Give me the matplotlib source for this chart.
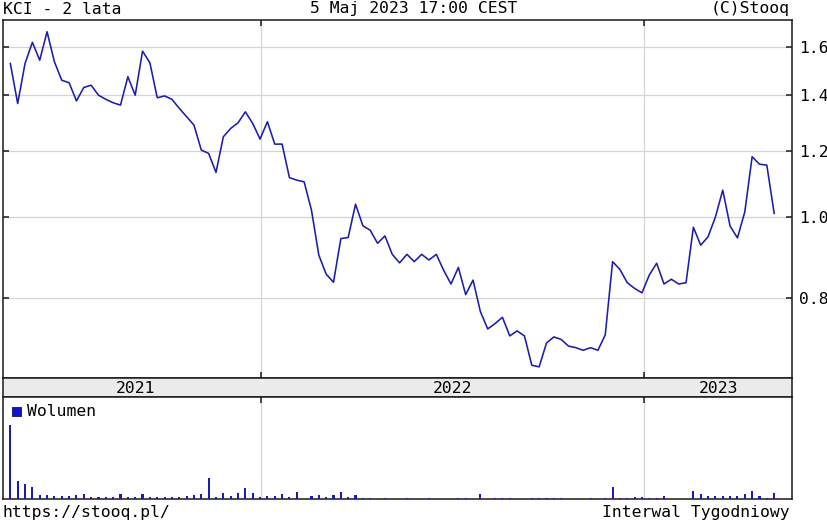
import numpy as np
import pandas as pd
import matplotlib
matplotlib.use('Agg')
import matplotlib.pyplot as plt
from matplotlib.ticker import FixedLocator, FormatStrFormatter, NullLocator
from matplotlib.patches import Rectangle

plt.rcParams['font.family'] = ['DejaVu Sans Mono']

# tygodniowe notowania KCI, 2 lata
daty = pd.date_range(end='2023-05-05', periods=105, freq='7D')
kurs = [1.528, 1.368, 1.528, 1.620, 1.542, 1.668, 1.535, 1.459, 1.449, 1.378,
        1.430, 1.439, 1.400, 1.384, 1.371, 1.362, 1.473, 1.400, 1.581, 1.531,
        1.390, 1.397, 1.384, 1.350, 1.319, 1.289, 1.203, 1.192, 1.131, 1.248,
        1.277, 1.297, 1.337, 1.295, 1.240, 1.301, 1.223, 1.223, 1.115, 1.107,
        1.102, 1.019, 0.900, 0.854, 0.835, 0.942, 0.945, 1.036, 0.976, 0.964,
        0.930, 0.949, 0.902, 0.881, 0.902, 0.884, 0.902, 0.888, 0.902, 0.863,
        0.831, 0.870, 0.807, 0.840, 0.770, 0.734, 0.745, 0.758, 0.720, 0.730,
        0.720, 0.664, 0.661, 0.706, 0.718, 0.713, 0.700, 0.697, 0.692, 0.697,
        0.692, 0.722, 0.884, 0.865, 0.834, 0.821, 0.811, 0.852, 0.880, 0.831,
        0.842, 0.831, 0.834, 0.972, 0.925, 0.947, 1.000, 1.077, 0.975, 0.944,
        1.014, 1.181, 1.157, 1.154, 1.010]
wolumen = [74, 18, 15, 12, 4, 4, 3, 3, 3, 4,
           5, 2, 2, 2, 2, 5, 2.5, 2.5, 5, 2.5,
           2.5, 2, 2.5, 2, 3, 4, 5, 21, 2.5, 6.5,
           3.5, 6.5, 11, 6.5, 2.5, 3, 3, 4.7, 2.5, 6.7,
           0, 3, 4, 2, 4, 6.7, 2, 4, 1.5, 1.5,
           0, 1.5, 0, 0, 1.5, 0, 0, 1.5, 0, 0,
           0, 1.5, 1.5, 0, 5, 0, 1.5, 1.5, 1.5, 0,
           0, 1.5, 1.5, 1.5, 1.5, 1.5, 0, 0, 0, 1.5,
           0, 1.5, 12, 1.5, 1.5, 2.5, 2.5, 1.5, 1.5, 3.5,
           0, 0, 0, 7.7, 5, 3.5, 3.5, 3.5, 3.5, 3.5,
           5, 8, 3.5, 1.5, 6]
wolumen = np.array(wolumen) * 1000

y_ticks = [0.8, 1.0, 1.2, 1.4, 1.6]
granice_lat = pd.to_datetime(['2022-01-01', '2023-01-01'])
etykiety_lat = ['2021', '2022', '2023']
x_min = pd.Timestamp('2021-04-30')
x_max = pd.Timestamp('2023-05-22')

kolor_linii = '#1c1cb0'
kolor_siatki = '#d4d4d4'
kolor_ramki = '#1a1a1a'
rozmiar = 11.8

W, H = 828, 525
fig = plt.figure(figsize=(W / 100, H / 100), dpi=100)
fig.patch.set_facecolor('white')

L, R = 3, 792


def box(top, bottom):
    return [L / W, 1 - bottom / H, (R - L) / W, (bottom - top) / H]


ax = fig.add_axes(box(20, 378))
ax_rok = fig.add_axes(box(378, 397))
ax_vol = fig.add_axes(box(397, 499))

# wykres kursu
ax.plot(daty, kurs, color=kolor_linii, lw=1.15, zorder=3)
ax.set_yscale('log')
ax.set_ylim(0.641, 1.723)
ax.yaxis.set_major_locator(FixedLocator(y_ticks))
ax.yaxis.set_minor_locator(NullLocator())
ax.yaxis.set_major_formatter(FormatStrFormatter('%.1f'))
ax.set_xlim(x_min, x_max)
ax.set_xticks(granice_lat)
ax.tick_params(axis='both', which='both', direction='in', length=4, width=1.1,
               color=kolor_ramki, left=True, right=True, top=True, bottom=True,
               labelleft=False, labelright=True, labelbottom=False,
               labelsize=rozmiar, pad=5)
ax.grid(True, color=kolor_siatki, lw=0.9)
ax.set_axisbelow(True)

# pasek z latami
ax_rok.set_facecolor('#ebebeb')
ax_rok.set_xlim(x_min, x_max)
ax_rok.set_ylim(0, 1)
ax_rok.set_xticks([])
ax_rok.set_yticks([])
srodki = [daty[0] + (granice_lat[0] - daty[0]) / 2,
          granice_lat[0] + (granice_lat[1] - granice_lat[0]) / 2,
          granice_lat[1] + (x_max - granice_lat[1]) / 2]
for s, e in zip(srodki, etykiety_lat):
    ax_rok.text(s, 0.45, e, ha='center', va='center', fontsize=rozmiar)

# wolumen
ax_vol.bar(daty, wolumen, width=2, color=kolor_linii, zorder=3)
ax_vol.set_xlim(x_min, x_max)
ax_vol.set_ylim(0, max(wolumen) * 1.38)
ax_vol.set_xticks(granice_lat)
ax_vol.set_yticks([])
ax_vol.tick_params(axis='x', direction='in', length=4, width=1.1, color=kolor_ramki,
                   top=True, bottom=False, labelbottom=False)
ax_vol.grid(True, axis='x', color=kolor_siatki, lw=0.9)
ax_vol.set_axisbelow(True)
ax_vol.add_patch(Rectangle((9 / (R - L), 1 - 19 / 102), 9 / (R - L), 9 / 102,
                           transform=ax_vol.transAxes, facecolor='#1010d0',
                           edgecolor='#101060', lw=0.6, zorder=4))
ax_vol.text(24 / (R - L), 1 - 14 / 102, 'Wolumen', transform=ax_vol.transAxes,
            ha='left', va='center', fontsize=rozmiar)

for a in (ax, ax_rok, ax_vol):
    for sp in a.spines.values():
        sp.set_color(kolor_ramki)
        sp.set_linewidth(1.1)

# napisy
fig.text(3 / W, 1 - 9 / H, 'KCI - 2 lata', ha='left', va='center', fontsize=rozmiar)
fig.text(414 / W, 1 - 9 / H, '5 Maj 2023 17:00 CEST', ha='center', va='center', fontsize=rozmiar)
fig.text(790 / W, 1 - 9 / H, '(C)Stooq', ha='right', va='center', fontsize=rozmiar)
fig.text(3 / W, 1 - 512 / H, 'https://stooq.pl/', ha='left', va='center', fontsize=rozmiar)
fig.text(790 / W, 1 - 512 / H, 'Interwal Tygodniowy', ha='right', va='center', fontsize=rozmiar)

fig.savefig('out.png', dpi=100, facecolor='white')
plt.close(fig)
